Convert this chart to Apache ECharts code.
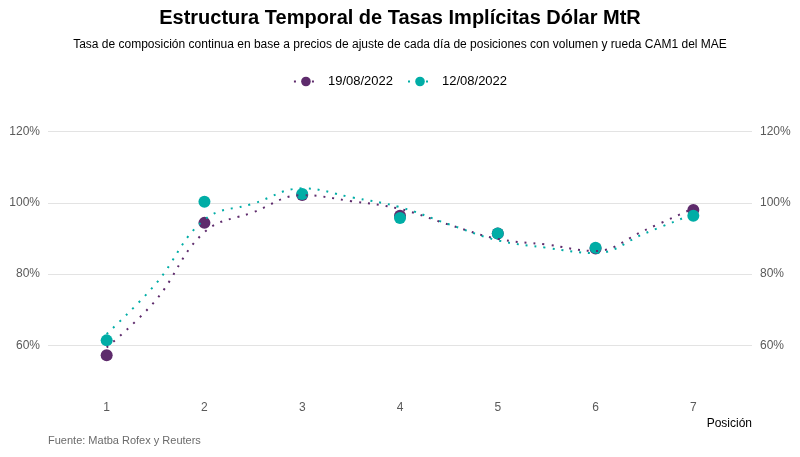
<!DOCTYPE html>
<html>
<head>
<meta charset="utf-8">
<script src="https://cdn.jsdelivr.net/npm/echarts@6/dist/echarts.min.js"></script>
<style>
html,body{margin:0;padding:0;background:#fff;}
#main{width:800px;height:457px;}
</style>
</head>
<body>
<div id="main"></div>
<script>
// posiciones y tasas (%)
var posiciones = [1, 2, 3, 4, 5, 6, 7];
var tasas1908 = [57.2, 94.4, 102.2, 96.4, 91.4, 87.2, 98.0];
var tasas1208 = [61.4, 100.3, 102.5, 95.8, 91.4, 87.4, 96.4];

// curva suavizada
var curvaX = [1, 1.5, 2, 2.5, 3, 3.5, 4, 4.5, 5, 5.5, 6, 6.5, 7];
var curva1908 = [59.4, 72.6, 91.8, 97.4, 102.2, 100.5, 98.3, 93.9, 89.9, 88.3, 86.5, 92.3, 98.5];
var curva1208 = [63.2, 77.2, 95.3, 99.8, 104.1, 101.6, 98.8, 94.0, 89.5, 87.4, 85.9, 91.4, 96.9];

var yTicks = [60, 80, 100, 120];
var nombres = ['19/08/2022', '12/08/2022'];
var colores = ['#5e2b6c', '#00ada6'];

function pares(xs, ys){
	var out = [];
	for(var i=0;i<xs.length;i++){
		out.push([xs[i], ys[i]]);
	}
	return out;
}

var labelStyle = {color:'#5a5a5a', fontSize:12, fontFamily:'Liberation Sans'};

option = {
	animation: false,
	title : [
		{
			text: 'Estructura Temporal de Tasas Implícitas Dólar MtR',
			left: 'center',
			top: 3,
			textStyle: {fontSize:20, fontWeight:'bold', color:'#000', fontFamily:'Liberation Sans'}
		},
		{
			text: 'Tasa de composición continua en base a precios de ajuste de cada día de posiciones con volumen y rueda CAM1 del MAE',
			left: 'center',
			top: 34,
			textStyle: {fontSize:12, fontWeight:'normal', color:'#000', fontFamily:'Liberation Sans'}
		},
		{
			text: 'Fuente: Matba Rofex y Reuters',
			left: 43,
			top: 430,
			textStyle: {fontSize:11, fontWeight:'normal', color:'#6b6b6b', fontFamily:'Liberation Sans'}
		}
	],
	legend : {
		data: nombres,
		top: 70,
		left: 'center',
		itemWidth: 24,
		itemHeight: 12,
		itemGap: 14,
		textStyle: {fontSize:13, color:'#000', fontFamily:'Liberation Sans', padding:[0,0,0,5]}
	},
	grid : {left:48, right:48, top:110, bottom:65},
	xAxis : [
		{
			type : 'value',
			min: 0.4,
			max: 7.6,
			name: 'Posición',
			nameLocation: 'end',
			nameGap: 0,
			nameTextStyle: {color:'#000', fontSize:12, fontFamily:'Liberation Sans', align:'right', verticalAlign:'top', padding:[26,0,0,0]},
			axisLine: {show:false},
			axisTick: {show:false, customValues: posiciones},
			splitLine: {show:false},
			axisLabel: Object.assign({customValues: posiciones, margin:10}, labelStyle)
		}
	],
	yAxis : [
		{
			type : 'value',
			min: 46.9,
			max: 126.1,
			position: 'left',
			axisLine: {show:false},
			axisTick: {show:false, customValues: yTicks},
			splitLine: {show:true, lineStyle:{color:'#e3e3e3', width:1}},
			axisLabel: Object.assign({customValues: yTicks, margin:8, formatter:'{value}%'}, labelStyle)
		},
		{
			type : 'value',
			min: 46.9,
			max: 126.1,
			position: 'right',
			axisLine: {show:false},
			axisTick: {show:false, customValues: yTicks},
			splitLine: {show:false},
			axisLabel: Object.assign({customValues: yTicks, margin:8, formatter:'{value}%'}, labelStyle)
		}
	],
	series : [
		{
			name: nombres[0],
			type: 'line',
			data: pares(curvaX, curva1908),
			smooth: 0.4,
			showSymbol: false,
			symbol: 'circle',
			symbolSize: 12,
			itemStyle: {color: colores[0]},
			lineStyle: {color: colores[0], width: 2, type: [2, 7]}
		},
		{
			name: nombres[1],
			type: 'line',
			data: pares(curvaX, curva1208),
			smooth: 0.4,
			showSymbol: false,
			symbol: 'circle',
			symbolSize: 12,
			itemStyle: {color: colores[1]},
			lineStyle: {color: colores[1], width: 2, type: [2, 7]}
		},
		{
			name: nombres[0],
			type: 'scatter',
			data: pares(posiciones, tasas1908),
			symbolSize: 12,
			itemStyle: {color: colores[0], opacity: 1}
		},
		{
			name: nombres[1],
			type: 'scatter',
			data: pares(posiciones, tasas1208),
			symbolSize: 12,
			itemStyle: {color: colores[1], opacity: 1}
		}
	]
};

var mychart = echarts.init(document.getElementById('main'));
mychart.setOption(option);
</script>
</body>
</html>
